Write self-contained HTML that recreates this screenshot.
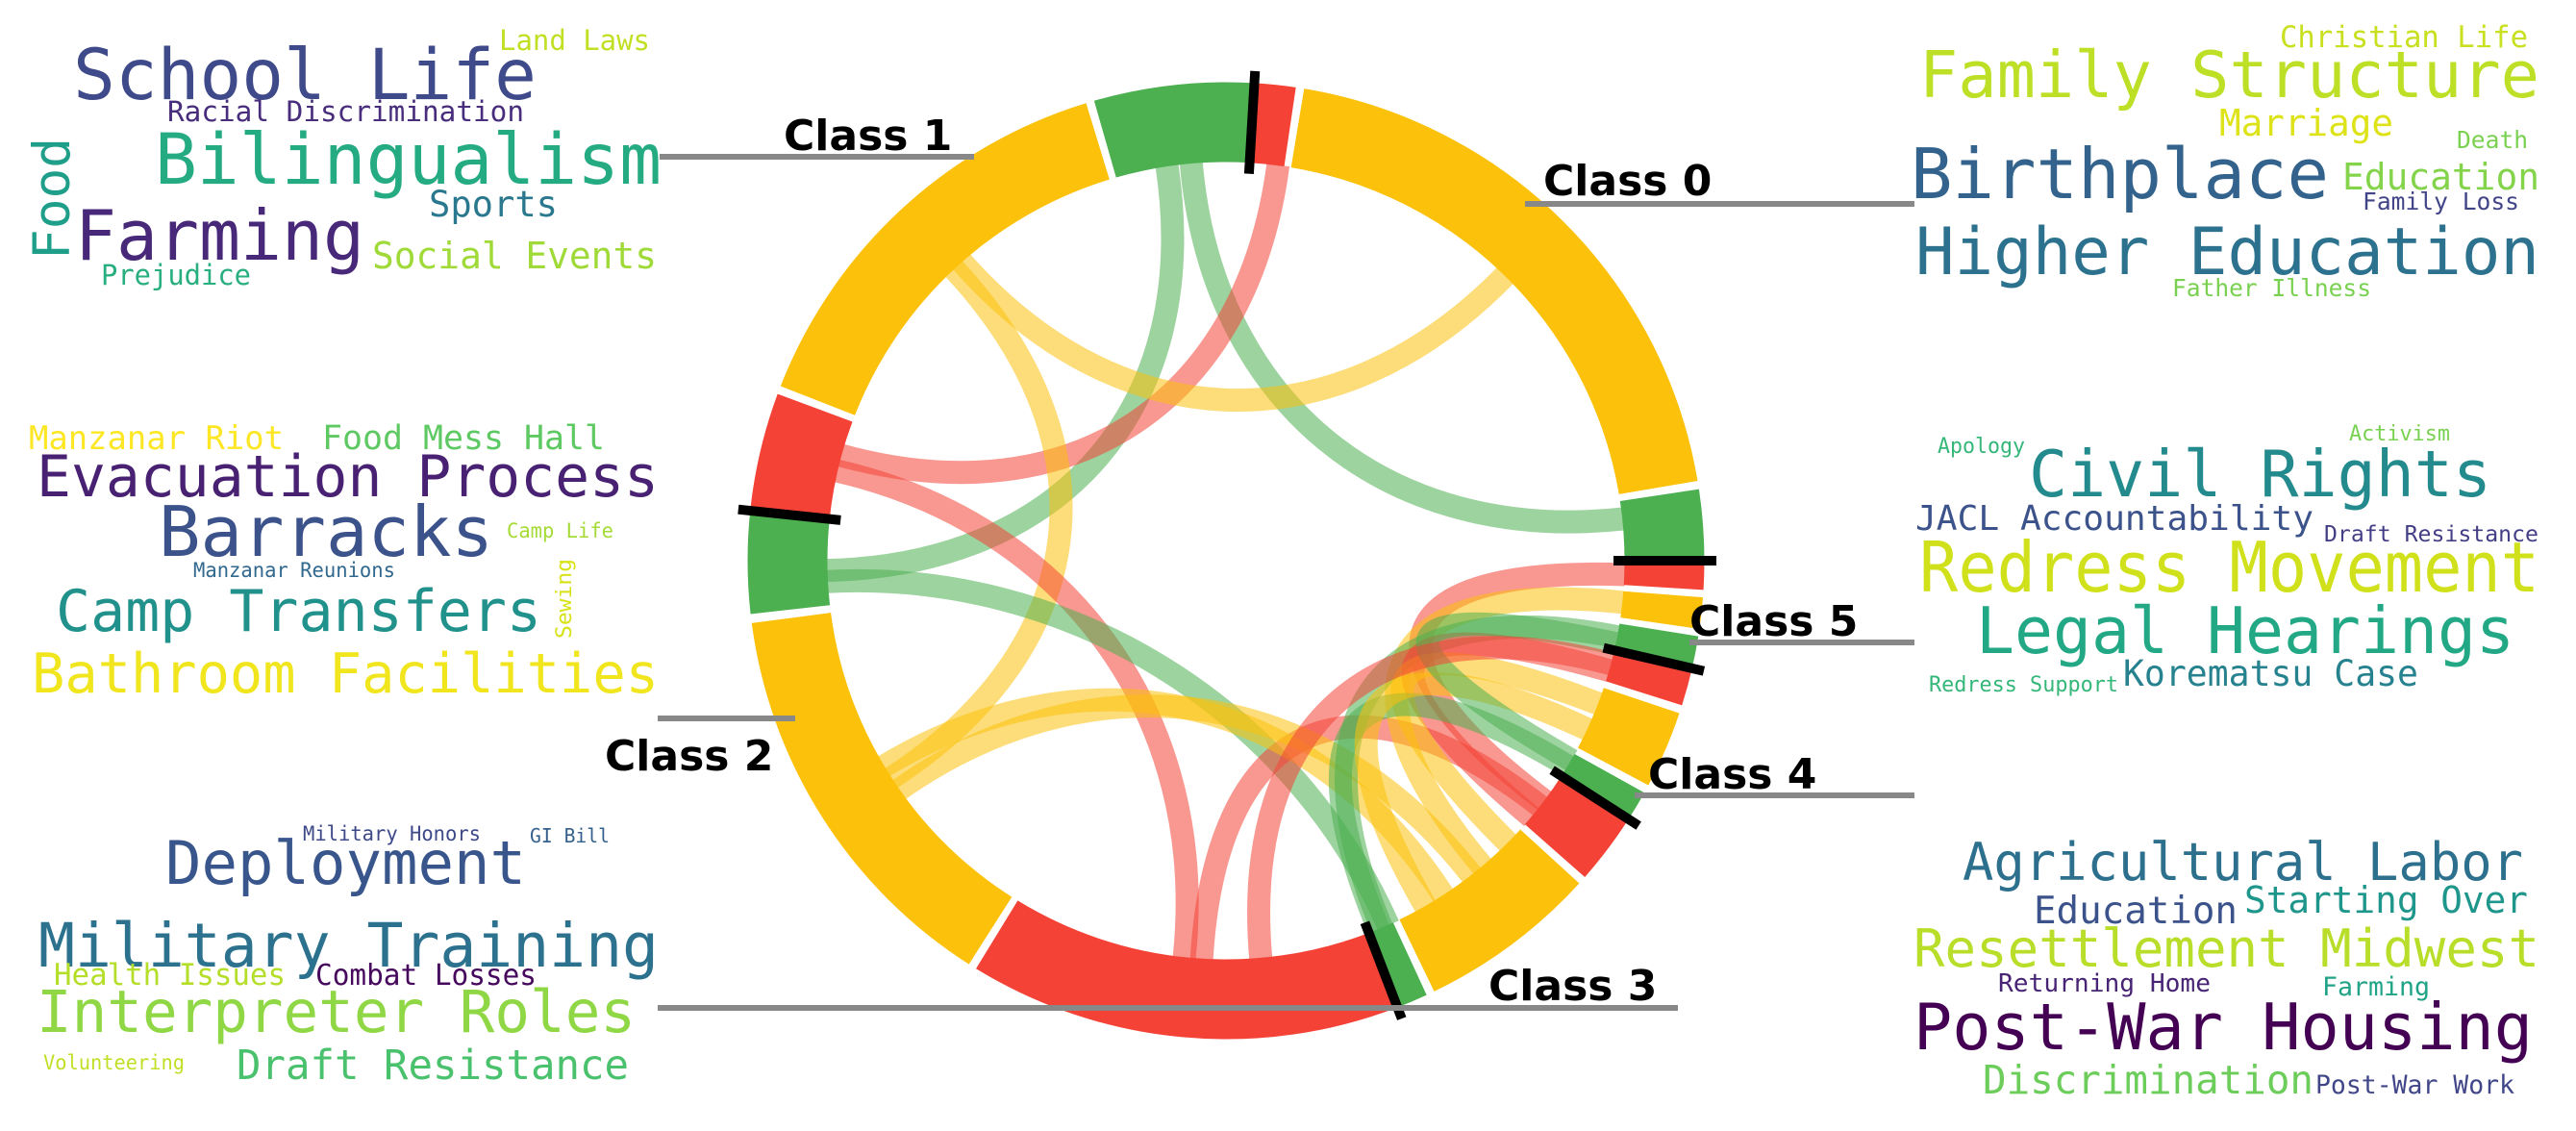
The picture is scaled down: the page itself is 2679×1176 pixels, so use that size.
<!DOCTYPE html>
<html><head><meta charset="utf-8"><style>
html,body{margin:0;padding:0;background:#fff;}
svg{display:block;}
.w{font-family:"DejaVu Sans Mono","Liberation Mono",monospace;}
.c{font-family:"DejaVu Sans","Liberation Sans",sans-serif;font-weight:bold;fill:#000;}
</style></head><body>
<svg id="s" width="2679" height="1176" viewBox="0 0 2679 1176" xmlns="http://www.w3.org/2000/svg">
<g id="chords"></g>
<g id="ring"></g>
<g stroke="#888" stroke-width="6">
<line x1="686" y1="163" x2="1013" y2="163"/>
<line x1="1586" y1="212" x2="1991" y2="212"/>
<line x1="1757" y1="668" x2="1991" y2="668"/>
<line x1="1700" y1="827" x2="1991" y2="827"/>
<line x1="684" y1="1048" x2="1745" y2="1048"/>
<line x1="684" y1="747" x2="827" y2="747"/>
</g>
<g class="c" font-size="44">
<text x="815" y="156">Class 1</text>
<text x="1605" y="203">Class 0</text>
<text x="1757" y="661">Class 5</text>
<text x="1714" y="820">Class 4</text>
<text x="1548" y="1040">Class 3</text>
<text x="629" y="801">Class 2</text>
</g>
<g class="w" id="words"></g>
</svg>
<script>
var NS="http://www.w3.org/2000/svg";
var cx=1275,cy=583,Rm=456,W=83,Ri=415;
function P(a,r){var t=a*Math.PI/180;return [cx+r*Math.cos(t),cy-r*Math.sin(t)];}
function el(tag,attrs,parent,txt){var e=document.createElementNS(NS,tag);for(var k in attrs)e.setAttribute(k,attrs[k]);if(txt)e.textContent=txt;parent.appendChild(e);return e;}
var Y="#fcc10b",R="#f44336",G="#4caf50";
var segs=[[81.6,86.6,R],[9.6,80.6,Y],[0,8.6,G],
[-3.5,0,R],[-8.2,-4.4,Y],[-13,-9.1,G],
[-17.6,-13,R],[-28,-18.6,Y],[-32.7,-29,G],
[-41.4,-32.7,R],[-64.2,-42.4,Y],[-69,-65.2,G],
[-121.5,-69,R],[-172.5,-122.5,Y],[174,186.4,G],
[159.6,174,R],[107,158.6,Y],[86.6,106,G]];
var ring=document.getElementById("ring");
segs.forEach(function(s){var a=P(s[1],Rm),b=P(s[0],Rm);var large=(s[1]-s[0])>180?1:0;
el("path",{d:"M"+a[0]+","+a[1]+" A"+Rm+","+Rm+" 0 "+large+" 1 "+b[0]+","+b[1],fill:"none",stroke:s[2],"stroke-width":W},ring);});
[86.6,0,-13,-32.7,-69,174].forEach(function(a){var p=P(a,403),q=P(a,510);
el("line",{x1:p[0],y1:p[1],x2:q[0],y2:q[1],stroke:"#000","stroke-width":10},ring);});
var chords=[[98.5,-178.6,G],[95,6,G],[82.5,164.7,R],[131.5,45.6,Y],[133,-147,Y],[167,-96,R],
[-177,-66,G],[-93.5,-38,R],[-145,-52,Y],[-149,-57,Y],
[-2,-37,R],[-6,-50,Y],[-11,-67,G],[-16,-40,R],[-21,-45,Y],[-31,-67.5,G],[-25,-60,Y],[-12,-30,G],[-15,-85,R]];
var cg=document.getElementById("chords");
var k=0.4;
chords.forEach(function(c){var a=P(c[0],Ri),b=P(c[1],Ri),c1=P(c[0],Ri*k),c2=P(c[1],Ri*k);
el("path",{d:"M"+a[0]+","+a[1]+" C"+c1[0]+","+c1[1]+" "+c2[0]+","+c2[1]+" "+b[0]+","+b[1],fill:"none",stroke:c[2],"stroke-width":24,"stroke-opacity":0.55},cg);});
var words=[
["School Life",76,103,482,73,"#3e4a89"],["Land Laws",519,52,157,29,"#c2df23"],
["Racial Discrimination",174,126,371,29,"#472d7b"],["Bilingualism",161,191,527,73,"#25ab82"],
["Farming",78,270,301,72,"#482878"],["Sports",446,225,134,37,"#2a788e"],
["Social Events",387,279,296,38,"#a0da39"],["Prejudice",105,296,156,29,"#29af7f"],
["Manzanar Riot",30,467,265,34,"#fde725"],["Food Mess Hall",335,467,294,35,"#5ec962"],
["Evacuation Process",38,516,647,60,"#482173"],["Barracks",165,578,348,72,"#3b528b"],
["Camp Life",527,559,111,21,"#a5db36"],["Manzanar Reunions",201,600,210,21,"#31688e"],
["Camp Transfers",58,656,505,60,"#21918c"],["Bathroom Facilities",33,720,652,57,"#f1e51d"],
["Military Honors",315,874,185,21,"#3e4989"],["GI Bill",551,876,83,20,"#35608d"],
["Deployment",172,919,375,62,"#39568c"],["Military Training",40,1005,645,63,"#2c728e"],
["Health Issues",56,1024,241,31,"#b5de2b"],["Combat Losses",328,1024,230,30,"#46085c"],
["Interpreter Roles",38,1073,623,61,"#8fd744"],["Volunteering",45,1112,147,21,"#c0df25"],
["Draft Resistance",246,1122,408,43,"#4ac16d"],
["Christian Life",2371,49,258,31,"#c8e020"],["Family Structure",1996,101,645,67,"#bddf26"],
["Marriage",2308,141,181,38,"#dde318"],["Death",2555,154,74,25,"#7ad151"],
["Birthplace",1987,206,435,72,"#33638d"],["Education",2436,197,205,38,"#84d44b"],
["Family Loss",2457,218,163,25,"#414487"],["Higher Education",1992,285,649,68,"#2c728e"],
["Father Illness",2259,308,207,25,"#7ad151"],
["Apology",2015,471,91,22,"#35b779"],["Activism",2443,458,105,22,"#7ad151"],
["Civil Rights",2110,516,481,67,"#238a8d"],["JACL Accountability",1992,551,414,36,"#3b528b"],
["Draft Resistance",2417,563,223,23,"#433e85"],["Redress Movement",1996,615,645,72,"#d0e11c"],
["Legal Hearings",2055,679,560,67,"#22a884"],["Redress Support",2006,719,197,22,"#35b779"],
["Korematsu Case",2208,713,307,37,"#26828e"],
["Agricultural Labor",2041,915,583,54,"#2d708e"],["Education",2115,960,212,39,"#3b528b"],
["Starting Over",2334,949,295,38,"#1f968b"],["Resettlement Midwest",1990,1005,651,54,"#b8de29"],
["Returning Home",2078,1031,221,26,"#482475"],["Farming",2415,1035,112,27,"#20a386"],
["Post-War Housing",1990,1091,644,67,"#440154"],["Discrimination",2062,1137,344,41,"#6ccd5a"],
["Post-War Work",2408,1137,207,27,"#404688"]];
var wg=document.getElementById("words");
words.forEach(function(w){el("text",{x:w[1],y:w[2],textLength:w[3],lengthAdjust:"spacingAndGlyphs","font-size":w[4],fill:w[5]},wg,w[0]);});
el("text",{x:0,y:0,transform:"translate(72,270) rotate(-90)",textLength:127,lengthAdjust:"spacingAndGlyphs","font-size":53,fill:"#1f9e89"},wg,"Food");
el("text",{x:0,y:0,transform:"translate(594,664) rotate(-90)",textLength:83,lengthAdjust:"spacingAndGlyphs","font-size":22,fill:"#d8e219"},wg,"Sewing");
</script>
</body></html>
